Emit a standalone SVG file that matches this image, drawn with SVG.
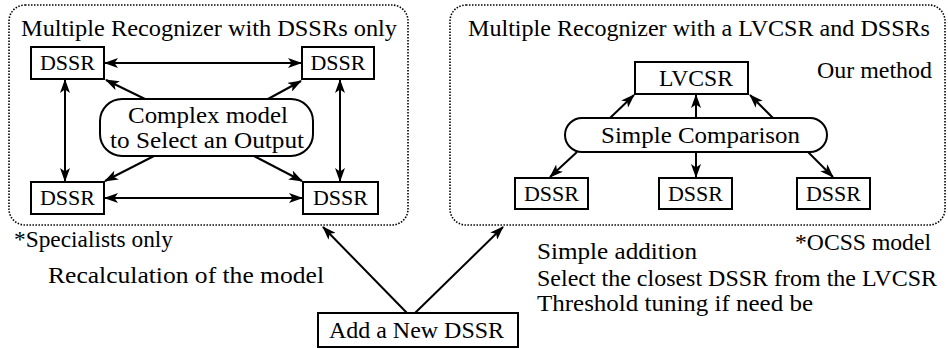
<svg xmlns="http://www.w3.org/2000/svg" width="948" height="349" viewBox="0 0 948 349" font-family="'Liberation Serif', 'Times New Roman', serif">
<defs>
<marker id="ah" viewBox="0 0 14 10" refX="13" refY="5" markerWidth="14" markerHeight="10" markerUnits="userSpaceOnUse" orient="auto-start-reverse">
<path d="M0,0 L14,5 L0,10 L3.5,5 z" fill="#000"/>
</marker>
</defs>
<style>
text{font-family:'Liberation Serif','Times New Roman',serif;font-size:23px;fill:#000}
.d{font-size:22px}
.box{fill:#fff;stroke:#000;stroke-width:2}
.panel{fill:none;stroke:#000;stroke-width:1.6;stroke-dasharray:1.5 1.5}
.c line{stroke:#000;stroke-width:2;fill:none}
.a{marker-end:url(#ah)}
.b{marker-start:url(#ah);marker-end:url(#ah)}
</style>
<rect id="panel-left" class="panel" x="9" y="5" width="399" height="220" rx="16"/>
<rect id="panel-right" class="panel" x="450" y="5" width="495" height="220" rx="16"/>
<text x="21" y="36" textLength="376" lengthAdjust="spacingAndGlyphs">Multiple Recognizer with DSSRs only</text>
<text x="468" y="36" textLength="462" lengthAdjust="spacingAndGlyphs">Multiple Recognizer with a LVCSR and DSSRs</text>
<text x="817" y="78" textLength="115" lengthAdjust="spacingAndGlyphs">Our method</text>
<text x="14" y="247" textLength="159" lengthAdjust="spacingAndGlyphs">*Specialists only</text>
<text x="795" y="250" textLength="136" lengthAdjust="spacingAndGlyphs">*OCSS model</text>
<text x="48" y="283" textLength="276" lengthAdjust="spacingAndGlyphs">Recalculation of the model</text>
<text x="537" y="259" textLength="160" lengthAdjust="spacingAndGlyphs">Simple addition</text>
<text x="537" y="286" textLength="400" lengthAdjust="spacingAndGlyphs">Select the closest DSSR from the LVCSR</text>
<text x="537" y="311" textLength="276" lengthAdjust="spacingAndGlyphs">Threshold tuning if need be</text>
<g id="dssr-tl"><rect class="box" x="31" y="47" width="73" height="32"/><text class="d" x="40" y="70" textLength="55" lengthAdjust="spacingAndGlyphs">DSSR</text></g>
<g id="dssr-tr"><rect class="box" x="302" y="47" width="72" height="32"/><text class="d" x="310.5" y="70" textLength="55" lengthAdjust="spacingAndGlyphs">DSSR</text></g>
<g id="dssr-bl"><rect class="box" x="31" y="182" width="73" height="32"/><text class="d" x="40" y="205" textLength="55" lengthAdjust="spacingAndGlyphs">DSSR</text></g>
<g id="dssr-br"><rect class="box" x="303" y="182" width="75" height="32"/><text class="d" x="313" y="205" textLength="55" lengthAdjust="spacingAndGlyphs">DSSR</text></g>
<g id="complex"><rect class="box" x="100" y="99" width="213" height="57" rx="22"/><text x="128" y="123" textLength="160" lengthAdjust="spacingAndGlyphs">Complex model</text><text x="110" y="148" textLength="194" lengthAdjust="spacingAndGlyphs">to Select an Output</text></g>
<g id="lvcsr"><rect class="box" x="635" y="62" width="113" height="32"/><text x="659" y="86" textLength="74" lengthAdjust="spacingAndGlyphs">LVCSR</text></g>
<g id="simple"><rect class="box" x="565" y="118" width="262" height="34" rx="17"/><text x="601" y="143" textLength="199" lengthAdjust="spacingAndGlyphs">Simple Comparison</text></g>
<g id="dssr-r1"><rect class="box" x="515" y="178" width="73" height="31"/><text class="d" x="524" y="201" textLength="55" lengthAdjust="spacingAndGlyphs">DSSR</text></g>
<g id="dssr-r2"><rect class="box" x="659" y="178" width="73" height="31"/><text class="d" x="668" y="201" textLength="55" lengthAdjust="spacingAndGlyphs">DSSR</text></g>
<g id="dssr-r3"><rect class="box" x="797" y="178" width="73" height="31"/><text class="d" x="806" y="201" textLength="55" lengthAdjust="spacingAndGlyphs">DSSR</text></g>
<g id="add"><rect class="box" x="318" y="313" width="200" height="34"/><text x="329" y="338" textLength="175" lengthAdjust="spacingAndGlyphs">Add a New DSSR</text></g>
<g id="connectors" class="c">
<line class="b" x1="105" y1="63" x2="301" y2="63"/>
<line class="b" x1="105" y1="198" x2="302" y2="198"/>
<line class="b" x1="65" y1="80" x2="65" y2="181"/>
<line class="b" x1="340" y1="80" x2="340" y2="181"/>
<line class="a" x1="145" y1="99" x2="106" y2="80"/>
<line class="a" x1="268" y1="99" x2="301" y2="81"/>
<line class="a" x1="154" y1="156" x2="105" y2="181"/>
<line class="a" x1="254" y1="156" x2="302" y2="181"/>
<line class="a" x1="610" y1="118" x2="634" y2="95"/>
<line class="a" x1="696" y1="118" x2="696" y2="95"/>
<line class="a" x1="773" y1="118" x2="750" y2="95"/>
<line class="a" x1="577" y1="152" x2="550" y2="177"/>
<line class="a" x1="696" y1="152" x2="696" y2="177"/>
<line class="a" x1="808" y1="152" x2="833" y2="177"/>
<line class="a" x1="407" y1="313" x2="323" y2="227"/>
<line class="a" x1="415" y1="313" x2="503" y2="227"/>
</g>
</svg>
